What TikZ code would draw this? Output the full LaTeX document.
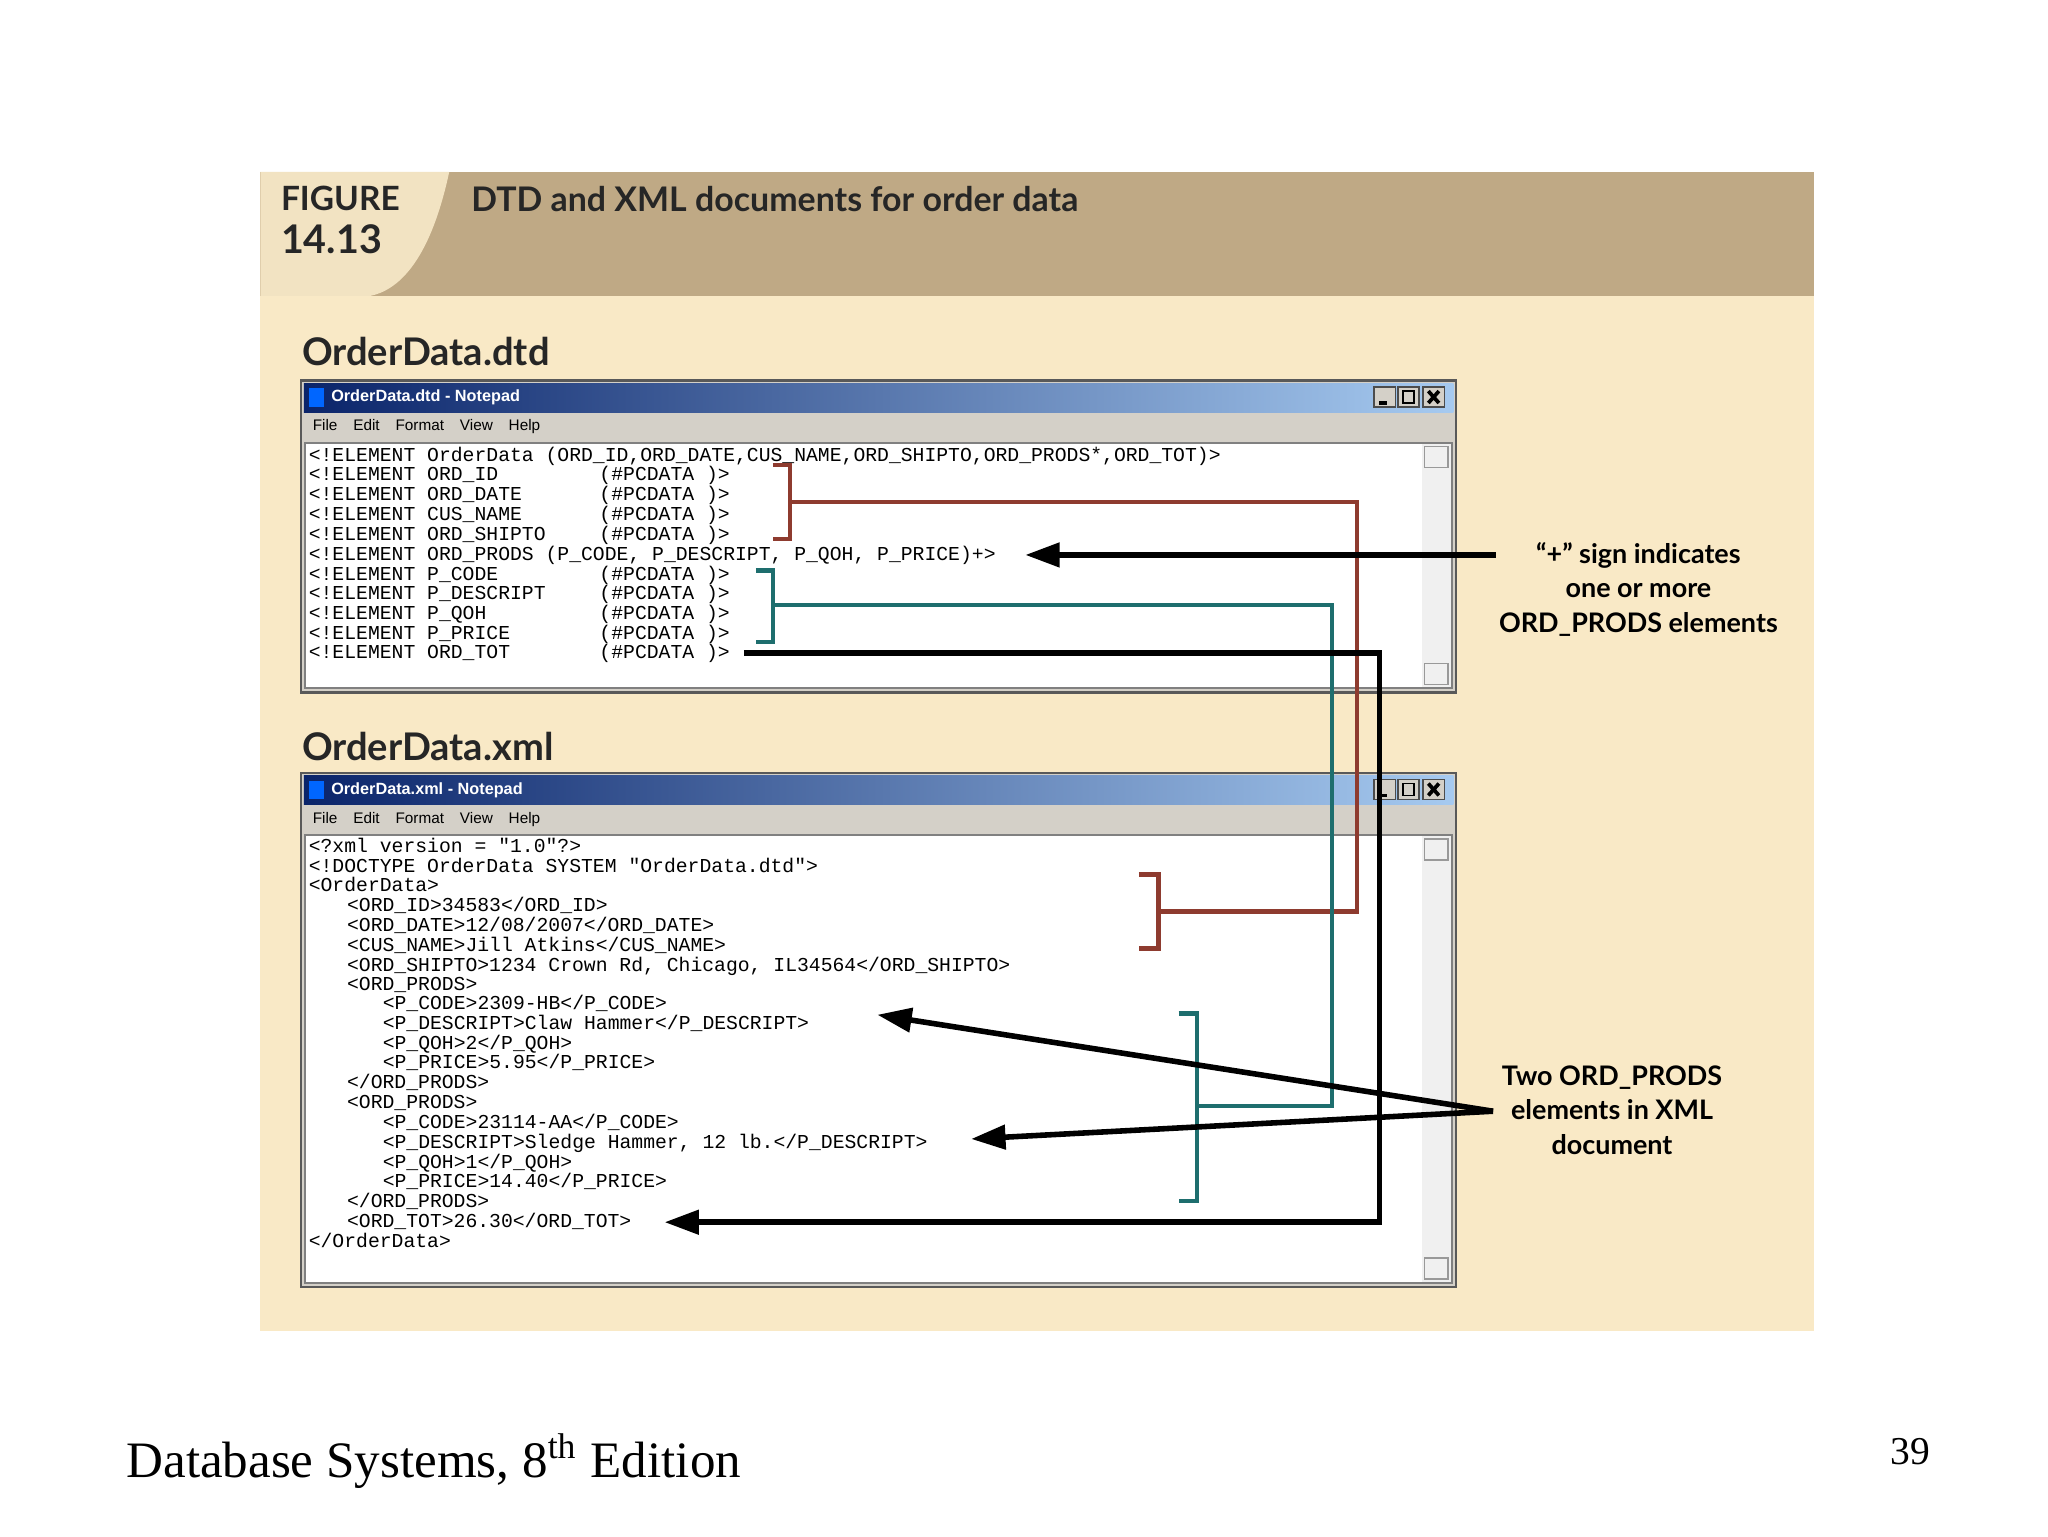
\documentclass[tikz,border=0pt]{standalone}
\usepackage{fontspec}
\setmainfont{Liberation Serif}
\newfontfamily\lab{Lato}
\newfontfamily\codef{Liberation Mono}
\newfontfamily\ui{Liberation Sans}
\usetikzlibrary{arrows.meta}
\definecolor{cream}{HTML}{F9E9C6}
\definecolor{tan}{HTML}{BFA985}
\definecolor{tab}{HTML}{F2E3C2}
\definecolor{rd}{HTML}{8E3B2F}
\definecolor{tl}{HTML}{1E6E6E}
\definecolor{tbd}{HTML}{0A246A}
\definecolor{tbl}{HTML}{A6CAF0}
\definecolor{menu}{HTML}{D4D0C8}
\tikzset{
 code/.style={anchor=west,inner sep=0,font=\codef\fontsize{4.25}{5}\selectfont,text height=1.1mm,text depth=0.3mm},
 lbl/.style={align=center,font=\lab\bfseries\fontsize{5.8}{7.4}\selectfont,inner sep=0},
 ar/.style={line width=1.2pt,-{Triangle[length=2.6mm,width=1.8mm]}},
 br/.style={line width=1pt},
}
\newcommand\cl[3]{\node[code] at (#1,#2) {#3};}
\newcommand\win[3]{% ytop ybottom title
 \fill[menu] (228,#1) rectangle (1102,#2);
 \draw[gray!70!black,line width=0.5pt] (228,#1) rectangle (1102,#2);
 \shade[left color=tbd,right color=tbl] (230,#1+2) rectangle (1100,#1+24);
 \node[anchor=west,text=white,font=\ui\bfseries\fontsize{3.5}{4}\selectfont,inner sep=0] at (250,#1+13) {#3};
 \fill[blue!60!cyan] (234,#1+6) rectangle (245,#1+20);
 \foreach \bx in {1040,1058,1077}{
  \fill[menu] (\bx,#1+5) rectangle (\bx+16,#1+20);
  \draw[black!70,line width=0.3pt] (\bx,#1+5) rectangle (\bx+16,#1+20);}
 \draw[line width=0.8pt] (1044,#1+17) -- (1050,#1+17);
 \draw[line width=0.4pt] (1062,#1+8) rectangle (1070,#1+17);
 \draw[line width=0.8pt] (1081,#1+8) -- (1089,#1+17) (1081,#1+17) -- (1089,#1+8);
 \node[anchor=west,font=\ui\fontsize{3.3}{4}\selectfont,inner sep=0] at (236,#1+35) {File\hspace{1.2mm}Edit\hspace{1.2mm}Format\hspace{1.2mm}View\hspace{1.2mm}Help};
 \fill[white] (231,#1+47) rectangle (1099,#2-3);
 \draw[gray,line width=0.4pt] (231,#1+47) rectangle (1099,#2-3);
 \fill[black!6] (1076,#1+48) rectangle (1098,#2-4);
 \draw[gray!80,line width=0.3pt] (1078,#1+50) rectangle (1096,#1+66) (1078,#2-22) rectangle (1096,#2-6);
}
\begin{document}
\begin{tikzpicture}[x=0.1mm,y=-0.1mm]
\useasboundingbox (0,0) rectangle (1550,1162.5);
\fill[white] (0,0) rectangle (1550,1162.5);
\fill[cream] (197,130) rectangle (1373,1007);
\fill[tan] (197,130) rectangle (1373,224);
\fill[tab] (197,130) -- (340,130) .. controls (325,200) and (300,220) .. (280,224) -- (197,224) -- cycle;
\node[anchor=west,font=\lab\bfseries\fontsize{7.2}{9}\selectfont,text=black!85,inner sep=0] at (212,150) {FIGURE};
\node[anchor=west,font=\lab\bfseries\fontsize{8.5}{10}\selectfont,text=black!85,inner sep=0] at (212,181) {14.13};
\node[anchor=west,font=\lab\bfseries\fontsize{7.3}{9}\selectfont,text=black!85,inner sep=0] at (356,151) {DTD and XML documents for order data};
\node[anchor=west,font=\lab\bfseries\fontsize{8.2}{10}\selectfont,text=black!85,inner sep=0] at (228,266) {OrderData.dtd};
\node[anchor=west,font=\lab\bfseries\fontsize{8.2}{10}\selectfont,text=black!85,inner sep=0] at (228,565) {OrderData.xml};
\win{288}{524}{OrderData.dtd - Notepad}
\win{585}{974}{OrderData.xml - Notepad}
% DTD
\cl{233}{345}{<!ELEMENT OrderData (ORD\_ID,ORD\_DATE,CUS\_NAME,ORD\_SHIPTO,ORD\_PRODS*,ORD\_TOT)>}
\cl{233}{360}{<!ELEMENT ORD\_ID}\cl{453}{360}{(\#PCDATA )>}
\cl{233}{375}{<!ELEMENT ORD\_DATE}\cl{453}{375}{(\#PCDATA )>}
\cl{233}{390}{<!ELEMENT CUS\_NAME}\cl{453}{390}{(\#PCDATA )>}
\cl{233}{405}{<!ELEMENT ORD\_SHIPTO}\cl{453}{405}{(\#PCDATA )>}
\cl{233}{420}{<!ELEMENT ORD\_PRODS (P\_CODE, P\_DESCRIPT, P\_QOH, P\_PRICE)+>}
\cl{233}{435}{<!ELEMENT P\_CODE}\cl{453}{435}{(\#PCDATA )>}
\cl{233}{450}{<!ELEMENT P\_DESCRIPT}\cl{453}{450}{(\#PCDATA )>}
\cl{233}{465}{<!ELEMENT P\_QOH}\cl{453}{465}{(\#PCDATA )>}
\cl{233}{480}{<!ELEMENT P\_PRICE}\cl{453}{480}{(\#PCDATA )>}
\cl{233}{494}{<!ELEMENT ORD\_TOT}\cl{453}{494}{(\#PCDATA )>}
% XML
\cl{233}{641}{<?xml version = "1.0"?>}
\cl{233}{656}{<!DOCTYPE OrderData SYSTEM "OrderData.dtd">}
\cl{233}{671}{<OrderData>}
\cl{262}{686}{<ORD\_ID>34583</ORD\_ID>}
\cl{262}{701}{<ORD\_DATE>12/08/2007</ORD\_DATE>}
\cl{262}{716}{<CUS\_NAME>Jill Atkins</CUS\_NAME>}
\cl{262}{731}{<ORD\_SHIPTO>1234 Crown Rd, Chicago, IL34564</ORD\_SHIPTO>}
\cl{262}{746}{<ORD\_PRODS>}
\cl{289}{760}{<P\_CODE>2309-HB</P\_CODE>}
\cl{289}{775}{<P\_DESCRIPT>Claw Hammer</P\_DESCRIPT>}
\cl{289}{790}{<P\_QOH>2</P\_QOH>}
\cl{289}{805}{<P\_PRICE>5.95</P\_PRICE>}
\cl{262}{820}{</ORD\_PRODS>}
\cl{262}{835}{<ORD\_PRODS>}
\cl{289}{850}{<P\_CODE>23114-AA</P\_CODE>}
\cl{289}{865}{<P\_DESCRIPT>Sledge Hammer, 12 lb.</P\_DESCRIPT>}
\cl{289}{880}{<P\_QOH>1</P\_QOH>}
\cl{289}{895}{<P\_PRICE>14.40</P\_PRICE>}
\cl{262}{910}{</ORD\_PRODS>}
\cl{262}{925}{<ORD\_TOT>26.30</ORD\_TOT>}
\cl{233}{940}{</OrderData>}
% brackets and connectors
\draw[rd,br] (585,352) -- (598,352) -- (598,408) -- (585,408);
\draw[rd,br] (862,662) -- (877,662) -- (877,718) -- (862,718);
\coordinate (r1) at (598,380); \coordinate (r2) at (877,690);
\draw[rd,br] (r1) -- (1027,380) -- (1027,690) -- (r2);
\draw[tl,br] (572,432) -- (585,432) -- (585,486) -- (572,486);
\draw[tl,br] (892,767) -- (906,767) -- (906,909) -- (892,909);
\coordinate (t1) at (585,458); \coordinate (t2) at (906,837);
\draw[tl,br] (t1) -- (1008,458) -- (1008,837) -- (t2);
\coordinate (k1) at (563,494); \coordinate (k2) at (503,925);
\draw[ar] (k1) -- (1044,494) -- (1044,925) -- (k2);
% labels
\node[lbl] (plus) at (1240,446) {“+” sign indicates\\one or more\\ORD\_PRODS elements};
\node[lbl] (two) at (1220,840) {Two ORD\_PRODS\\elements in XML\\document};
\coordinate (pa) at (1132,420); \coordinate (pb) at (776,420);
\draw[ar] (pa) -- (pb);
\coordinate (ta) at (1130,841); \coordinate (tb) at (664,768); \coordinate (tc) at (735,862);
\draw[ar] (ta) -- (tb);
\draw[ar] (ta) -- (tc);
% footer
\node[anchor=base west,font=\fontsize{11}{13}\selectfont,inner sep=0] (foot) at (95,1118) {Database Systems, 8\textsuperscript{th} Edition};
\node[anchor=base west,font=\fontsize{8.5}{10}\selectfont,inner sep=0] (pg) at (1430,1108) {39};
\end{tikzpicture}
\end{document}
